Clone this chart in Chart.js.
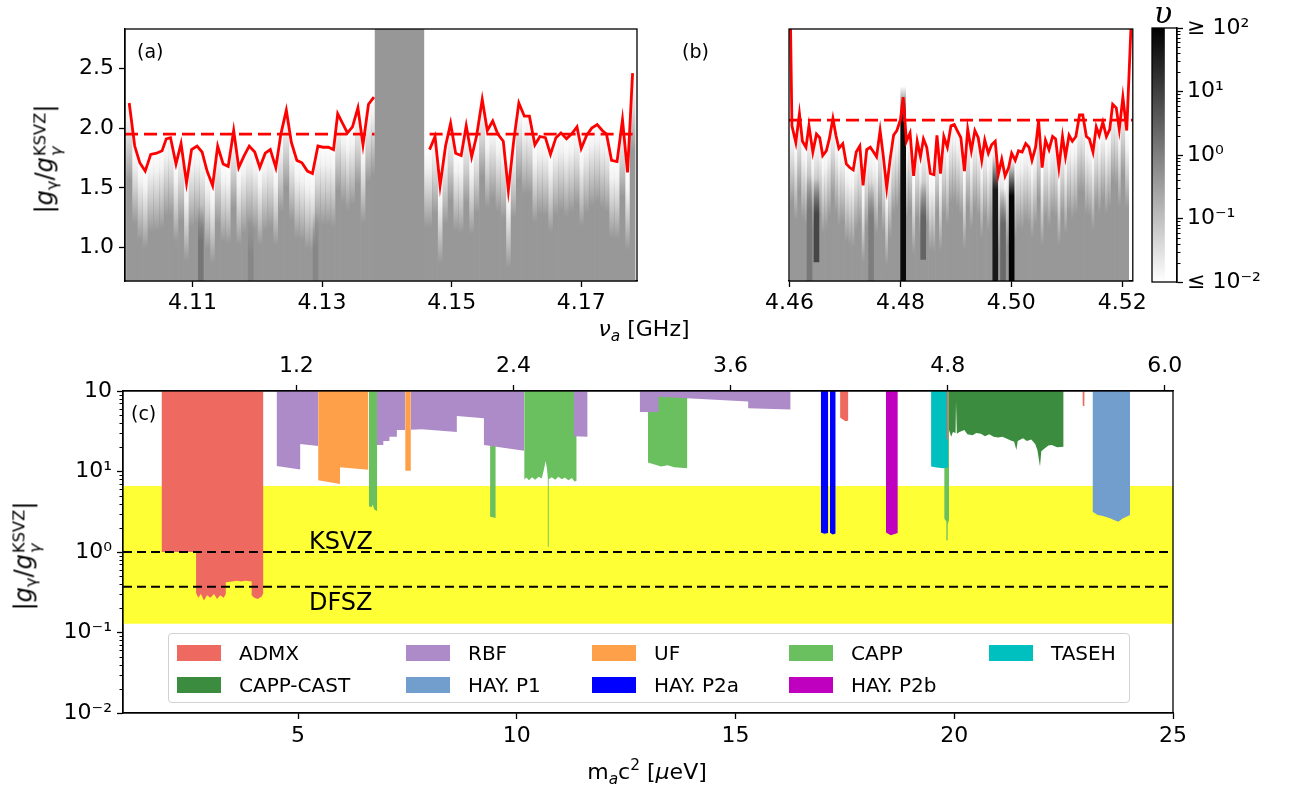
<!DOCTYPE html>
<html><head><meta charset="utf-8">
<script src="https://cdn.jsdelivr.net/npm/chart.js@4.4.0/dist/chart.umd.min.js"></script>
<style>
body{margin:0;width:1293px;height:789px;background:#fff;position:relative;overflow:hidden;font-family:"DejaVu Sans",sans-serif;color:#000}
canvas{position:absolute}
.lbl{position:absolute;white-space:nowrap;line-height:1}
.rot{transform:translate(-50%,-50%) rotate(-90deg);transform-origin:center}
.ctr{transform:translate(-50%,-50%)}
.ss{display:inline-flex;flex-direction:column;vertical-align:0.42em;font-size:0.68em;line-height:0.95;margin-left:1px}
#legend{position:absolute;left:168px;top:633px;width:960px;height:68px;border:1.5px solid #d2d2d2;border-radius:4px;background:rgba(255,255,255,0.85)}
.li{position:absolute;height:20px;font-size:20px;line-height:20px;white-space:nowrap}
.sw{position:absolute;left:0;top:2px;width:44px;height:16px}
.lt{position:absolute;left:62px;top:0}
</style></head><body>
<canvas id="ca" style="left:0;top:0" width="640" height="320"></canvas>
<canvas id="cb" style="left:600px;top:0" width="550" height="320"></canvas>
<canvas id="cbar" style="left:1140px;top:0" width="153" height="320"></canvas>
<canvas id="cc" style="left:0;top:330px" width="1293" height="459"></canvas>
<div id="overlay"></div>
<div id="legend"></div>
<script>
// ================= DATA =================
// Panel (a): 90% exclusion line, left and right of the masked band
const nuA_left = [4.10025,4.10110,4.10188,4.10272,4.10357,4.10448,4.10532,4.10597,4.10662,4.10747,4.10825,4.10909,4.10987,4.11072,4.11149,4.11227,4.11312,4.11390,4.11474,4.11552,4.11637,4.11715,4.11799,4.11877,4.11962,4.12040,4.12124,4.12202,4.12287,4.12365,4.12449,4.12527,4.12612,4.12690,4.12774,4.12852,4.12937,4.13015,4.13099,4.13177,4.13242,4.13327,4.13392,4.13470,4.13554,4.13632,4.13717,4.13801];
const gA_left  = [2.21,1.85,1.71,1.64,1.78,1.79,1.81,1.91,1.92,1.70,1.87,1.54,1.82,1.85,1.80,1.64,1.52,1.85,1.70,1.68,1.98,1.67,1.77,1.85,1.80,1.67,1.79,1.82,1.67,1.95,2.15,1.88,1.73,1.71,1.64,1.62,1.85,1.84,1.84,1.82,2.12,2.03,1.96,2.01,2.17,1.86,2.20,2.26];
const nuA_right = [4.14659,4.14744,4.14822,4.14906,4.14984,4.15062,4.15147,4.15225,4.15309,4.15387,4.15472,4.15550,4.15634,4.15712,4.15797,4.15875,4.15959,4.16037,4.16122,4.16200,4.16284,4.16362,4.16447,4.16525,4.16609,4.16687,4.16772,4.16850,4.16934,4.17000,4.17084,4.17162,4.17246,4.17324,4.17389,4.17467,4.17552,4.17636,4.17714,4.17792];
const gA_right  = [1.82,1.93,1.52,1.85,2.04,1.79,1.77,2.02,1.76,1.94,2.24,1.98,2.06,1.95,1.89,1.48,1.90,2.21,2.10,2.10,1.86,1.93,1.92,1.78,1.92,1.96,1.91,1.95,2.01,1.83,1.94,2.00,2.03,1.98,1.95,1.73,1.72,2.07,1.63,2.46];
const limitA = 1.95;
const maskA = [4.1381, 4.1458];
// Panel (b)
const nuB = [4.46016,4.46043,4.46113,4.46178,4.46232,4.46296,4.46350,4.46420,4.46485,4.46544,4.46598,4.46663,4.46717,4.46782,4.46836,4.46890,4.46960,4.47024,4.47084,4.47148,4.47202,4.47267,4.47326,4.47391,4.47456,4.47515,4.47569,4.47633,4.47687,4.47752,4.47811,4.47876,4.47935,4.48000,4.48049,4.48108,4.48173,4.48237,4.48302,4.48361,4.48415,4.48474,4.48539,4.48604,4.48658,4.48722,4.48782,4.48846,4.48911,4.48970,4.49024,4.49089,4.49154,4.49213,4.49278,4.49342,4.49402,4.49466,4.49520,4.49585,4.49644,4.49709,4.49763,4.49827,4.49887,4.49951,4.50005,4.50070,4.50129,4.50194,4.50259,4.50318,4.50372,4.50437,4.50491,4.50555,4.50615,4.50679,4.50744,4.50798,4.50857,4.50922,4.50976,4.51040,4.51100,4.51164,4.51229,4.51288,4.51353,4.51407,4.51472,4.51531,4.51585,4.51650,4.51714,4.51774,4.51827,4.51892,4.51946,4.52011,4.52081,4.52162];
const gB  = [2.90,2.02,1.88,2.12,1.89,1.84,2.02,1.80,1.95,1.92,1.77,1.81,1.91,2.08,1.94,1.83,1.87,1.70,1.67,1.65,1.80,1.85,1.52,1.82,1.84,1.80,1.76,1.98,1.78,1.50,1.73,1.94,1.98,2.07,2.26,1.89,1.96,1.60,1.89,1.76,1.91,1.84,1.62,1.61,1.94,1.62,1.93,1.84,2.02,2.03,1.98,1.92,1.64,1.99,1.81,1.98,1.92,1.73,1.90,1.79,1.86,1.89,1.61,1.74,1.60,1.67,1.79,1.73,1.81,1.80,1.87,1.84,1.73,1.84,2.06,1.67,1.90,1.82,1.93,1.91,1.67,1.93,1.76,1.94,1.89,1.93,2.11,2.11,1.93,1.91,1.80,2.01,1.94,2.05,1.93,1.99,2.20,2.17,1.99,2.26,1.98,2.90];
const limitB = 2.067;
// strong candidate-power streaks in the heat map
const streakA_nu = [4.1113, 4.1190, 4.1290];
const streakA_top = [1.35, 1.25, 1.30];
const streakA_shade = [118, 135, 135];
const streakB_nu = [4.4636, 4.46485, 4.4747, 4.48049, 4.4841, 4.4971, 4.4985, 4.50005];
const streakB_top = [1.60, 1.58, 1.55, 2.35, 1.55, 1.78, 1.50, 1.73];
const streakB_lo  = [0.72, 0.88, 0.72, 0.72, 0.90, 0.72, 0.72, 0.72];
const streakB_shade = [120, 70, 125, 10, 100, 25, 105, 5];
// axes of top panels
const yRangeAB = [0.72, 2.83];
const xRangeA = [4.0996, 4.1786];
const xRangeB = [4.4599, 4.5219];
const xTicksA = [4.11, 4.13, 4.15, 4.17];
const xTicksB = [4.46, 4.48, 4.50, 4.52];
const yTicksAB = [1.0, 1.5, 2.0, 2.5];
const cbTicks = [0.01, 0.1, 1, 10, 100];
const cbLabels = ['≤ 10⁻²', '10⁻¹', '10⁰', '10¹', '≥ 10²'];

// Panel (c): lower edges of excluded regions (excluded up to top of axis)
const admxSegs = [
 [[1.88,1.0],[2.67,1.0],[2.67,0.31],[2.72,0.27],[2.78,0.30],[2.85,0.25],[2.92,0.29],[3.0,0.27],[3.08,0.30],[3.15,0.26],[3.22,0.29],[3.30,0.27],[3.35,0.30],[3.35,0.42],[3.5,0.43],[3.6,0.44],[3.7,0.43],[3.8,0.44],[3.94,0.43],[3.94,0.29],[4.0,0.27],[4.08,0.26],[4.17,0.28],[4.21,0.31]],
 [[17.39,47],[17.46,44],[17.52,42],[17.58,43]],
 [[19.83,25],[19.87,25]],
 [[22.93,66],[22.98,64]]
];
const rbfSegs = [
 [[4.51,11.7],[5.05,10.6],[5.05,22],[5.46,20.7]],
 [[6.80,21.4],[6.95,21.4],[6.95,23.9],[7.09,23.9],[7.09,27],[7.26,27],[7.26,32.8],[7.45,32.8]],
 [[7.58,33],[7.83,33.4],[8.63,31],[8.63,49],[9.25,46],[9.25,21.4],[10.17,18.1]],
 [[11.30,27.5],[11.62,27]],
 [[12.81,55],[13.24,55],[13.24,85],[15.29,74],[15.29,61],[16.26,59]]
];
const ufSegs = [
 [[5.46,7.8],[5.96,7.0],[5.96,11.3],[6.61,10.5]],
 [[7.45,10.2],[7.58,10.2]]
];
const cappSegs = [
 [[6.62,3.7],[6.68,3.6],[6.71,3.9],[6.74,3.4],[6.81,3.2]],
 [[9.39,2.75],[9.52,2.65]],
 [[10.17,7.9],[10.22,8.4],[10.28,7.8],[10.35,8.5],[10.42,7.9],[10.5,8.6],[10.57,8.2],[10.62,10.5],[10.66,13.5],[10.69,10.8],[10.71,8.3],[10.71,1.16],[10.73,1.16],[10.73,8.0],[10.8,8.5],[10.88,7.9],[10.95,8.6],[11.03,8.0],[11.1,8.4],[11.18,7.8],[11.26,8.3],[11.32,7.5],[11.37,7.7]],
 [[13.0,12.9],[13.3,11.5],[13.45,12],[13.6,11.3],[13.9,11.0]],
 [[19.77,2.6],[19.82,2.4],[19.82,1.4],[19.85,1.4],[19.85,2.2],[19.88,2.5]]
];
const tasehSegs = [[[19.47,11.5],[19.6,11.2],[19.75,11.0],[19.86,11.3]]];
const castSegs = [[[19.88,32.8],[19.93,27],[19.97,31],[20.03,30],[20.04,74],[20.06,29.5],[20.12,31],[20.23,32.8],[20.3,29],[20.42,28.3],[20.5,30],[20.61,29.5],[20.7,27.5],[20.8,29],[20.9,27],[21.0,26.5],[21.1,27],[21.18,25.8],[21.28,24.5],[21.37,23.5],[21.42,18.5],[21.45,24],[21.57,25.8],[21.66,24],[21.76,25],[21.85,22],[21.9,18.5],[21.96,11.5],[21.99,17.8],[22.05,19],[22.15,21],[22.23,21.4],[22.35,20],[22.5,20.3]]];
const hayP1Segs = [[[23.16,3.16],[23.28,2.88],[23.4,2.8],[23.56,2.63],[23.65,2.5],[23.75,2.38],[23.85,2.6],[24.02,2.88]]];
const hayP2aSegs = [[[16.95,1.75],[17.03,1.68],[17.12,1.72]],[[17.16,1.74],[17.22,1.65],[17.29,1.7]]];
const hayP2bSegs = [[[18.44,1.75],[18.55,1.62],[18.71,1.72]]];

const expNames  = ['ADMX','RBF','UF','CAPP','TASEH','CAPP-CAST','HAY. P1','HAY. P2a','HAY. P2b'];
const expColors = ['#ee6a60','#ad8bc9','#fe9f4a','#6abf5f','#00bfbf','#3b8c3e','#729ece','#0000ff','#bf00bf'];
const expSegs   = [admxSegs, rbfSegs, ufSegs, cappSegs, tasehSegs, castSegs, hayP1Segs, hayP2aSegs, hayP2bSegs];
const expOrder  = [1,2,3,5,4,6,7,7,7];
const ksvz = 1.0, dfsz = 0.37;
const modelBand = [0.128, 6.62];
const massRange = [1, 25];
const massTicks = [5, 10, 15, 20, 25];
const freqTicks = [1.2, 2.4, 3.6, 4.8, 6.0];
const GHzPerMicroeV = 0.241799;
const yTicksC = [0.01, 0.1, 1, 10, 100];
const yLabelsC = ['10⁻²', '10⁻¹', '10⁰', '10¹', '10'];

// ================= SETUP =================
Chart.defaults.font.family = "'DejaVu Sans', sans-serif";
Chart.defaults.font.size = 22;
Chart.defaults.color = '#000';
Chart.defaults.animation = false;
Chart.defaults.responsive = false;
Chart.defaults.devicePixelRatio = 1;
Chart.defaults.plugins.legend.display = false;
Chart.defaults.plugins.tooltip.enabled = false;
Chart.defaults.elements.point.radius = 0;

const frame = { id:'frame', afterDraw(chart){ const a=chart.chartArea, c=chart.ctx; c.save(); c.strokeStyle='#000'; c.lineWidth=1.3; c.strokeRect(a.left, a.top, a.right-a.left, a.bottom-a.top); c.restore(); } };
const minorTicks = { id:'minorTicks', afterDraw(chart, args, opts){
  if(!opts || !opts.values) return; const s = chart.scales[opts.scale]; const c = chart.ctx;
  c.save(); c.strokeStyle='#000'; c.lineWidth=1;
  for(const v of opts.values){ const p = Math.round(s.getPixelForValue(v))+0.5; c.beginPath();
    if(opts.side==='left'){ c.moveTo(chart.chartArea.left, p); c.lineTo(chart.chartArea.left - opts.length, p);} 
    else { c.moveTo(chart.chartArea.right,p); c.lineTo(chart.chartArea.right+opts.length,p);} c.stroke(); }
  c.restore(); } };

function tickAxis(o){
  return Object.assign({
    grid:{display:true, offset:false, drawOnChartArea:false, drawTicks:true, tickLength:6, tickColor:'#000', tickWidth:1.3},
    border:{display:true, color:'#000', width:1.3},
    offset:false
  }, o);
}
function heatColor(ctx){
  const ch = ctx.chart, ys = ch.scales.y, r = ctx.raw;
  if(!ys || !r || !ch.chartArea) return 'rgb(152,152,152)';
  const p0 = ys.getPixelForValue(r.top + 0.02), p1 = ys.getPixelForValue(r.top - 0.65);
  if(!isFinite(p0) || !isFinite(p1)) return 'rgb(152,152,152)';
  const g = ch.ctx.createLinearGradient(0, p0, 0, p1);
  g.addColorStop(0, 'rgba(152,152,152,0)');
  g.addColorStop(0.25, 'rgba(152,152,152,0.12)');
  g.addColorStop(0.55, 'rgba(152,152,152,0.45)');
  g.addColorStop(1, 'rgba(152,152,152,1)');
  return g;
}
function streakColor(ctx){
  const ch = ctx.chart, ys = ch.scales.y, r = ctx.raw;
  if(!ys || !r || !ch.chartArea) return 'rgb(80,80,80)';
  const p0 = ys.getPixelForValue(r.top), p1 = ys.getPixelForValue(r.top - 0.3);
  const s = r.shade;
  const g = ch.ctx.createLinearGradient(0, p0, 0, p1);
  g.addColorStop(0, `rgba(${s},${s},${s},0)`);
  g.addColorStop(1, `rgba(${s},${s},${s},1)`);
  return g;
}
function heatSet(nu, g, order){
  return {type:'bar', data: nu.map((x,i)=>({x, y:[yRangeAB[0], yRangeAB[1]], top:g[i]})),
    backgroundColor: heatColor, borderWidth:0, barThickness:'flex', categoryPercentage:1, barPercentage:1, grouped:true, order};
}
function streakSet(nu, top, lo, shade){
  return {type:'bar', data: nu.map((x,i)=>({x, y:[lo[i], yRangeAB[1]], top:top[i], shade:shade[i]})),
    backgroundColor: streakColor, borderWidth:0, barThickness:5, grouped:false, order:4};
}
function lineSet(nu, g, extra){
  return Object.assign({type:'line', data: nu.map((x,i)=>({x, y:g[i]})), borderColor:'#ff0000', borderWidth:2.8, pointRadius:0, fill:false, order:0}, extra||{});
}
function topPanel(id, xr, xt, padding, showY, datasets){
  return new Chart(document.getElementById(id), {
    type:'line',
    data:{datasets},
    options:{
      layout:{padding},
      scales:{
        x: tickAxis({type:'linear', min:xr[0], max:xr[1],
          afterBuildTicks:s=>{ s.ticks = xt.map(v=>({value:v})); },
          ticks:{callback:v=>v.toFixed(2), maxRotation:0, autoSkip:false, padding:3, font:{size:22}},
          afterFit:s=>{ s.height = 39; }}),
        y: tickAxis({type:'linear', min:yRangeAB[0], max:yRangeAB[1], display:showY,
          afterBuildTicks:s=>{ s.ticks = yTicksAB.map(v=>({value:v})); },
          ticks:{callback:v=>v.toFixed(1), padding:5, font:{size:22}},
          afterFit:s=>{ s.width = 125; }})
      }
    },
    plugins:[frame]
  });
}

// ---- panel (a)  (heat bins of both sides in one dataset; the masked band covers the join)
topPanel('ca', xRangeA, xTicksA, {top:29, right:3, left:0, bottom:0}, true, [
  lineSet(nuA_left, gA_left),
  lineSet(nuA_right, gA_right),
  lineSet([xRangeA[0], maskA[0]], [limitA, limitA], {borderDash:[13,6], order:1}),
  lineSet([maskA[1]+0.0008, xRangeA[1]], [limitA, limitA], {borderDash:[13,6], order:1}),
  {type:'line', data:[{x:maskA[0], y:yRangeAB[1]},{x:maskA[1], y:yRangeAB[1]}], borderWidth:0, borderColor:'transparent', backgroundColor:'#979797', fill:'start', order:2},
  streakSet(streakA_nu, streakA_top, streakA_nu.map(()=>yRangeAB[0]), streakA_shade),
  heatSet(nuA_left.concat(nuA_right), gA_left.concat(gA_right), 5)
]);
// ---- panel (b)
topPanel('cb', xRangeB, xTicksB, {top:29, right:8, left:64, bottom:0}, false, [
  lineSet(nuB, gB),
  lineSet([xRangeB[0], xRangeB[1]], [limitB, limitB], {borderDash:[13,6], order:1}),
  streakSet(streakB_nu, streakB_top, streakB_lo, streakB_shade),
  heatSet(nuB.slice(1,-1), gB.slice(1,-1), 5)
]);

// ---- colorbar
const cbMinor = []; for(let e=-2;e<2;e++){ for(let k=2;k<10;k++) cbMinor.push(k*Math.pow(10,e)); }
new Chart(document.getElementById('cbar'), {
  type:'bar',
  data:{labels:['v'], datasets:[{data:[[cbTicks[0], cbTicks[cbTicks.length-1]]], borderWidth:0,
    backgroundColor:(ctx)=>{ const a=ctx.chart.chartArea; if(!a) return '#777'; const g=ctx.chart.ctx.createLinearGradient(0,a.top,0,a.bottom); g.addColorStop(0,'#000'); g.addColorStop(1,'#fff'); return g; },
    barPercentage:1, categoryPercentage:1}]},
  options:{
    layout:{padding:{left:12, top:28, bottom:38, right:0}},
    scales:{
      x:{display:false, offset:false},
      y: tickAxis({type:'logarithmic', position:'right', min:cbTicks[0], max:cbTicks[cbTicks.length-1],
        afterBuildTicks:s=>{ s.ticks = cbTicks.map(v=>({value:v})); },
        ticks:{callback:(v)=>{ const i=cbTicks.findIndex(t=>Math.abs(t-v)/t<1e-6); return i>=0?cbLabels[i]:''; }, padding:4, font:{size:22}},
        afterFit:s=>{ s.width = 116; }})
    },
    plugins:{minorTicks:{scale:'y', values:cbMinor, length:3.5, side:'right'}}
  },
  plugins:[frame, minorTicks]
});

// ---- panel (c)
const cDatasets = [];
cDatasets.push({type:'line', data:massRange.map(x=>({x, y:ksvz})), borderColor:'#000', borderWidth:2, borderDash:[9,5], fill:false, order:0});
cDatasets.push({type:'line', data:massRange.map(x=>({x, y:dfsz})), borderColor:'#000', borderWidth:2, borderDash:[9,5], fill:false, order:0});
expSegs.forEach((segs, k)=>{
  segs.forEach(seg=>{
    cDatasets.push({type:'line', label:expNames[k], data:seg.map(([x,y])=>({x,y})), fill:'end',
      backgroundColor:expColors[k], borderColor:'transparent', borderWidth:0, pointRadius:0, order:expOrder[k]});
  });
});
cDatasets.push({type:'line', data:massRange.map(x=>({x, y:modelBand[1]})), fill:{value:modelBand[0]}, backgroundColor:'#ffff35', borderColor:'transparent', borderWidth:0, order:10});

const cMinor = []; for(let e=-2;e<2;e++){ for(let k=2;k<10;k++) cMinor.push(k*Math.pow(10,e)); }
new Chart(document.getElementById('cc'), {
  type:'line',
  data:{datasets:cDatasets},
  options:{
    layout:{padding:{left:0, right:120, top:0, bottom:0}},
    scales:{
      x: tickAxis({type:'linear', position:'bottom', min:massRange[0], max:massRange[1],
        afterBuildTicks:s=>{ s.ticks = massTicks.map(v=>({value:v})); },
        ticks:{callback:v=>String(v), padding:4, maxRotation:0, autoSkip:false, font:{size:22}},
        afterFit:s=>{ s.height = 76; }}),
      x2: tickAxis({type:'linear', axis:'x', position:'top', min:massRange[0]*GHzPerMicroeV, max:massRange[1]*GHzPerMicroeV,
        afterBuildTicks:s=>{ s.ticks = freqTicks.map(v=>({value:v})); },
        ticks:{callback:v=>v.toFixed(1), padding:6, maxRotation:0, autoSkip:false, font:{size:22}},
        afterFit:s=>{ s.height = 61; }}),
      y: tickAxis({type:'logarithmic', min:yTicksC[0], max:yTicksC[yTicksC.length-1],
        afterBuildTicks:s=>{ s.ticks = yTicksC.map(v=>({value:v})); },
        ticks:{callback:(v)=>{ const i=yTicksC.findIndex(t=>Math.abs(t-v)/t<1e-6); return i>=0?yLabelsC[i]:''; }, padding:5, font:{size:22}},
        afterFit:s=>{ s.width = 123; }})
    },
    plugins:{minorTicks:{scale:'y', values:cMinor, length:3.5, side:'left'}}
  },
  plugins:[frame, minorTicks]
});

// ---- text overlays
const ylab = '|<i>g</i><sub style="font-size:0.68em;vertical-align:-0.3em">γ</sub>/<i>g</i><span class="ss"><span>KSVZ</span><span><i>γ</i></span></span>|';
const ov = document.getElementById('overlay');
function addLbl(html, x, y, cls, style){ const d=document.createElement('div'); d.className='lbl '+cls; d.style.left=x+'px'; d.style.top=y+'px'; d.setAttribute('style', d.getAttribute('style')+';'+(style||'')); d.innerHTML=html; ov.appendChild(d); }
addLbl(ylab, 48, 159, 'rot', 'font-size:24px');
addLbl(ylab, 27, 556, 'rot', 'font-size:24px');
addLbl('<i>ν</i><sub style="font-size:0.7em"><i>a</i></sub> [GHz]', 644, 331, 'ctr', 'font-size:22px');
addLbl('m<sub style="font-size:0.7em"><i>a</i></sub>c<sup style="font-size:0.7em">2</sup> [<i>μ</i>eV]', 647, 773, 'ctr', 'font-size:22px');
addLbl('(a)', 137, 42, '', 'font-size:19px');
addLbl('(b)', 682, 42, '', 'font-size:19px');
addLbl('(c)', 131, 404, '', 'font-size:19px');
addLbl('KSVZ', 309, 529, '', 'font-size:24px');
addLbl('DFSZ', 309, 590, '', 'font-size:24px');
addLbl('<i>υ</i>', 1163, 13, 'ctr', "font-size:30px;font-family:'DejaVu Serif',serif");

// ---- legend (matplotlib ncol=5, column-major)
const legendCols = [8, 237, 423, 620, 820];
const legendRows = [9, 41];
const lg = document.getElementById('legend');
const legendOrder = ['ADMX','CAPP-CAST','RBF','HAY. P1','UF','HAY. P2a','CAPP','HAY. P2b','TASEH'];
legendOrder.forEach((n,j)=>{
  const k = expNames.indexOf(n); const col = Math.floor(j/2), row = j%2;
  const d = document.createElement('div'); d.className='li'; d.style.left=legendCols[col]+'px'; d.style.top=legendRows[row]+'px';
  d.innerHTML = `<span class="sw" style="background:${expColors[k]}"></span><span class="lt">${n}</span>`;
  lg.appendChild(d);
});
</script>
</body></html>
